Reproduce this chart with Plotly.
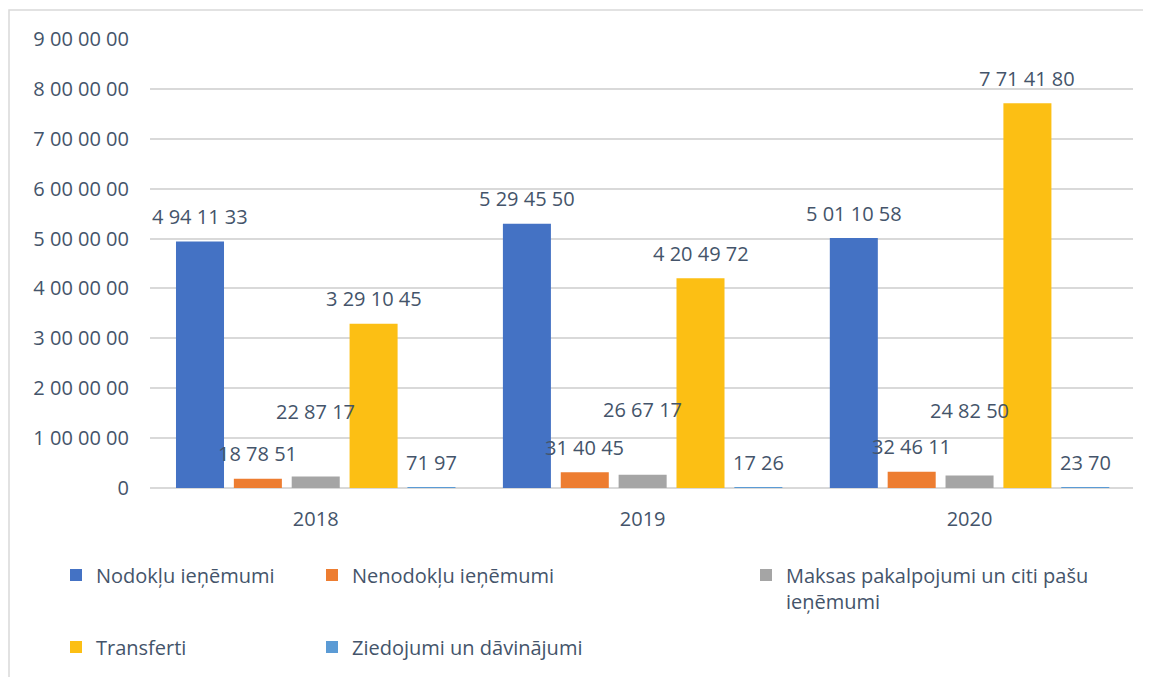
import plotly.graph_objects as go

years = ["2018", "2019", "2020"]
series_names = [
    "Nodokļu ieņēmumi",
    "Nenodokļu ieņēmumi",
    "Maksas pakalpojumi un citi pašu<br>ieņēmumi",
    "Transferti",
    "Ziedojumi un dāvinājumi",
]
nodoklu = [4941133, 5294550, 5011058]
nenodoklu = [187851, 314045, 324611]
maksas = [228717, 266717, 248250]
transferti = [3291045, 4204972, 7714180]
ziedojumi = [7197, 1726, 2370]
tick_values = [0, 1000000, 2000000, 3000000, 4000000, 5000000, 6000000, 7000000, 8000000, 9000000]

series_values = [nodoklu, nenodoklu, maksas, transferti, ziedojumi]
colors = ["#4472C4", "#ED7D31", "#A5A5A5", "#FCBF14", "#5B9BD5"]
label_shift = [25, 25, 65, 25, 25]
legend_ids = ["legend", "legend2", "legend3", "legend4", "legend5"]

TXT = "#44546A"
FONT = "Open Sans"
BARGAP = 0.115
W, H = 1143, 669
ML, MT, PW, PH = 142, 31, 983, 449


def fmt(v):
    s = str(int(v))
    groups = []
    while len(s) > 2:
        groups.insert(0, s[-2:])
        s = s[:-2]
    if s:
        groups.insert(0, s)
    return " ".join(groups)


fig = go.Figure()
for i, (name, vals) in enumerate(zip(series_names, series_values)):
    fig.add_trace(go.Bar(
        x=years, y=vals, name=name,
        marker=dict(color=colors[i], line=dict(width=0)),
        legend=legend_ids[i],
        hoverinfo="skip",
    ))

slot = (1 - BARGAP) / len(series_names)
annotations = []
for i, vals in enumerate(series_values):
    for j, v in enumerate(vals):
        annotations.append(dict(
            x=j + (i - 2) * slot, y=v, xref="x", yref="y",
            text=fmt(v), showarrow=False, yanchor="middle", xanchor="center",
            yshift=label_shift[i],
            font=dict(family=FONT, size=20, color=TXT),
        ))

leg_common = dict(orientation="h", xref="container", yref="container",
                  xanchor="left", yanchor="middle", valign="top",
                  font=dict(family=FONT, size=20, color=TXT), itemwidth=30,
                  bgcolor="rgba(0,0,0,0)")

col_x = [48, 304, 738, 48, 304]
row_y = [567, 567, 580, 639, 639]
legends = {}
for i, lid in enumerate(legend_ids):
    legends[lid] = dict(x=col_x[i] / W, y=1 - row_y[i] / H, **leg_common)

fig.update_layout(
    width=W, height=H,
    margin=dict(l=ML, r=W - ML - PW, t=MT, b=H - MT - PH, autoexpand=False),
    paper_bgcolor="white", plot_bgcolor="white",
    barmode="group", bargap=BARGAP, bargroupgap=0.17,
    font=dict(family=FONT, size=20, color=TXT),
    showlegend=True,
    annotations=annotations,
    shapes=[dict(type="rect", xref="paper", yref="paper",
                 x0=(1 - ML) / PW, x1=1.2, y0=-1.0, y1=(MT + PH - 2) / PH,
                 line=dict(color="#D9D9D9", width=1.5), fillcolor="rgba(0,0,0,0)", layer="below")],
    xaxis=dict(showgrid=False, showline=False, ticks="", zeroline=False,
               tickfont=dict(family=FONT, size=20, color=TXT), ticklabelstandoff=17),
    yaxis=dict(range=[0, 9000000], tickvals=tick_values, ticktext=[fmt(t) for t in tick_values],
               showgrid=True, gridcolor="#D9D9D9", gridwidth=1.5,
               zeroline=True, zerolinecolor="#D9D9D9", zerolinewidth=1.5,
               showline=False, ticks="",
               tickfont=dict(family=FONT, size=20, color=TXT), ticklabelstandoff=20),
    **legends,
)

fig.write_html("out.html")
